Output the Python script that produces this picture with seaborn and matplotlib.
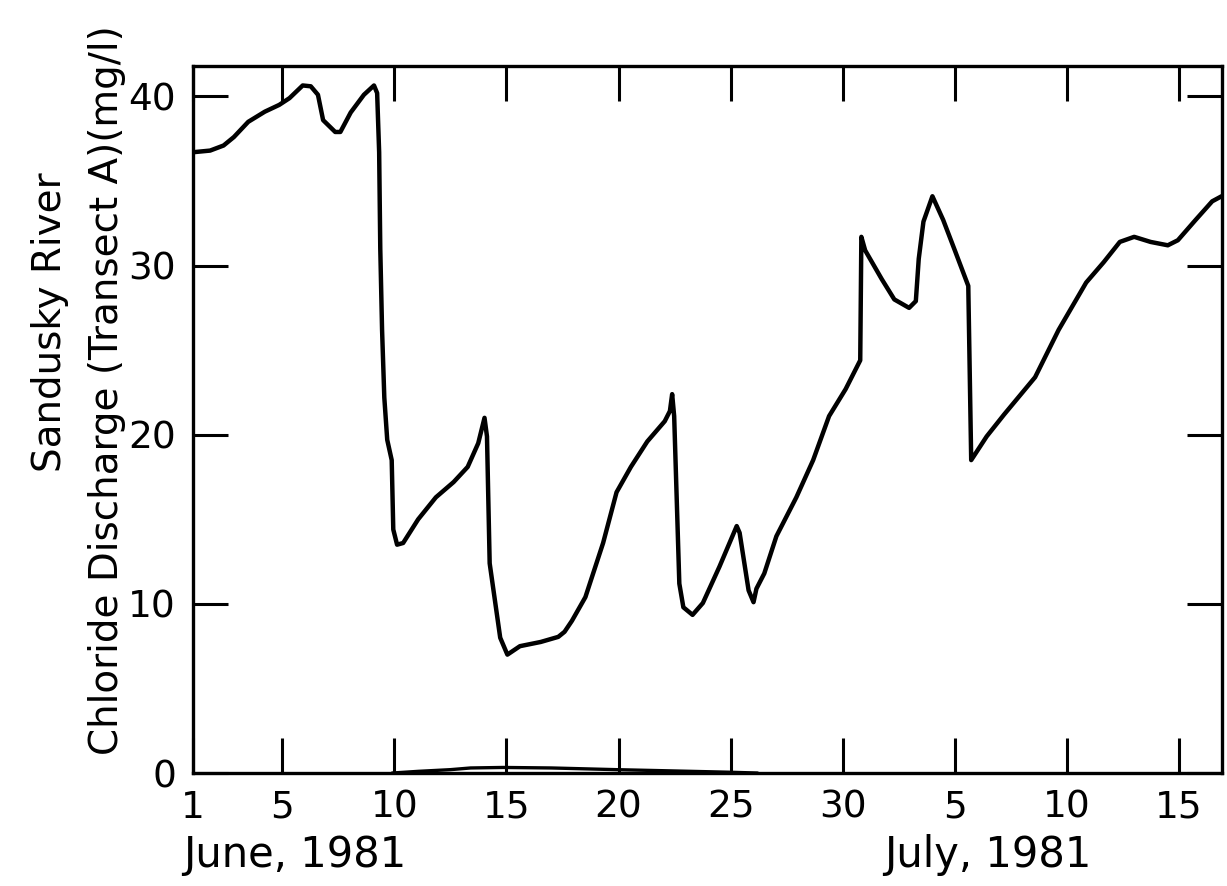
import numpy as np
import pandas as pd
import seaborn as sns
import matplotlib.pyplot as plt

# chloride discharge, days counted from June 1 1981
days = [0.0, 0.78, 1.38, 1.84, 2.48, 3.22, 3.86, 4.32, 4.91, 5.27, 5.59, 5.82,
        6.36, 6.59, 7.05, 7.64, 8.09, 8.23, 8.32, 8.37, 8.45, 8.55, 8.68, 8.88,
        8.95, 9.12, 9.39, 10.06, 10.85, 11.64, 12.27, 12.74, 13.02, 13.13, 13.25,
        13.72, 14.04, 14.6, 15.53, 16.31, 16.59, 16.92, 17.52, 18.31, 18.91, 19.55,
        20.28, 21.06, 21.29, 21.39, 21.48, 21.71, 21.89, 22.3, 22.76, 23.5, 24.27,
        24.4, 24.8, 25.02, 25.15, 25.5, 26.04, 26.93, 27.68, 28.39, 29.13, 29.78,
        29.83, 30.0, 30.74, 31.3, 31.96, 32.26, 32.39, 32.6, 33.0, 33.48, 34.0,
        34.6, 34.73, 35.42, 36.2, 37.58, 38.63, 39.86, 40.64, 41.36, 42.0, 42.73,
        43.5, 43.95, 44.74, 45.48, 45.9]
chloride = [36.7, 36.8, 37.1, 37.6, 38.5, 39.1, 39.5, 39.9, 40.65, 40.6, 40.1, 38.6,
            37.9, 37.9, 39.05, 40.1, 40.65, 40.2, 36.7, 31.0, 26.2, 22.2, 19.7, 18.5,
            14.4, 13.5, 13.6, 15.0, 16.3, 17.2, 18.1, 19.5, 21.0, 19.9, 12.4,
            8.0, 7.0, 7.5, 7.75, 8.05, 8.35, 9.0, 10.4, 13.6, 16.6, 18.1,
            19.6, 20.8, 21.4, 22.4, 21.1, 11.2, 9.8, 9.35, 10.05, 12.2, 14.6,
            14.2, 10.8, 10.1, 10.9, 11.8, 14.0, 16.3, 18.5, 21.1, 22.7, 24.4,
            31.7, 30.9, 29.2, 28.0, 27.5, 27.9, 30.4, 32.6, 34.1, 32.7, 30.9,
            28.8, 18.5, 19.9, 21.2, 23.4, 26.2, 29.0, 30.2, 31.4, 31.7, 31.4,
            31.2, 31.5, 32.7, 33.8, 34.1]

# small second trace lying just above the axis
low_days = [8.9, 10.06, 11.5, 12.4, 13.85, 16.0, 18.9, 20.6, 23.9, 25.2]
low_vals = [0.0, 0.1, 0.2, 0.3, 0.33, 0.3, 0.2, 0.15, 0.05, 0.0]

tick_days = [0, 4, 9, 14, 19, 24, 29, 34, 39, 44]
tick_labels = ['1', '5', '10', '15', '20', '25', '30', '5', '10', '15']
y_ticks = [0, 10, 20, 30, 40]

sns.set_style("ticks")
plt.rcParams['font.family'] = ['DejaVu Sans']

fig = plt.figure(figsize=(12.27, 8.86), dpi=100)
ax = fig.add_axes([0.157, 0.1275, 0.8386, 0.798])

sns.lineplot(x=days, y=chloride, ax=ax, color='black', linewidth=3.2,
             estimator=None, sort=False)
sns.lineplot(x=low_days, y=low_vals, ax=ax, color='black', linewidth=2.4,
             estimator=None, sort=False)

ax.set_xlim(0, 45.9)
ax.set_ylim(0, 41.8)
ax.set_xticks(tick_days)
ax.set_xticklabels(tick_labels)
ax.set_yticks(y_ticks)
ax.tick_params(direction='in', length=25, width=2.2, top=True, right=True,
               labelsize=27, pad=12, colors='black')
for s in ax.spines.values():
    s.set_linewidth(2.4)
    s.set_color('black')
ax.set_xlabel('')
ax.set_ylabel('')

fig.text(183 / 1227, 1 - 855 / 886, 'June, 1981', ha='left', va='center',
         fontsize=30, color='black')
fig.text(988 / 1227, 1 - 855 / 886, 'July, 1981', ha='center', va='center',
         fontsize=30, color='black')
fig.text(50 / 1227, 1 - 322 / 886, 'Sandusky River', rotation=90,
         ha='center', va='center', fontsize=28, color='black')
fig.text(107 / 1227, 1 - 390 / 886, 'Chloride Discharge (Transect A)(mg/l)',
         rotation=90, ha='center', va='center', fontsize=28, color='black')

fig.savefig('out.png', dpi=100)
